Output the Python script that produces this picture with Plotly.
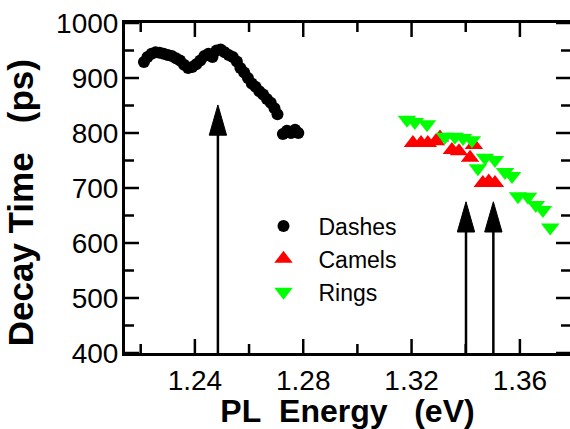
import plotly.graph_objects as go

# ---- data ----
dash_e = [1.2212, 1.2225, 1.2240, 1.2255, 1.2270, 1.2285, 1.2300, 1.2315, 1.2330, 1.2345,
          1.2360, 1.2375, 1.2390, 1.2405, 1.2420, 1.2435, 1.2450, 1.2465, 1.2480, 1.2495,
          1.2510, 1.2525, 1.2540, 1.2555, 1.2568, 1.2582, 1.2596, 1.2610, 1.2624, 1.2638,
          1.2652, 1.2666, 1.2680, 1.2694, 1.2705, 1.2725, 1.2740, 1.2755, 1.2770, 1.2782]
dash_t = [929, 938, 944, 947, 946, 944, 942, 940, 936, 932,
          924, 918, 920, 925, 932, 940, 944, 938, 950, 952,
          947, 942, 938, 930, 918, 910, 900, 890, 884, 876,
          870, 862, 855, 845, 834, 798, 804, 800, 806, 800]

camel_e = [1.3205, 1.3235, 1.3260, 1.3290, 1.3305, 1.3349, 1.3375, 1.3416, 1.3430, 1.3463, 1.3485, 1.3508]
camel_t = [782, 782, 782, 785, 792, 769, 767, 755, 778, 709, 712, 709]

ring_e = [1.3183, 1.3212, 1.3257, 1.3323, 1.3360, 1.3390, 1.3423, 1.3445, 1.3471, 1.3508,
          1.3545, 1.3571, 1.3593, 1.3630, 1.3659, 1.3685, 1.3712]
ring_t = [824, 820, 816, 793, 793, 791, 787, 736, 755, 751,
          729, 722, 685, 684, 669, 660, 628]

arrow_e = [1.2485, 1.3401, 1.3502]
arrow_tip = [851, 675, 675]
arrow_base = 400

x_major = [1.24, 1.28, 1.32, 1.36]
x_minor = [1.22, 1.26, 1.30, 1.34]
y_major = [400, 500, 600, 700, 800, 900, 1000]
y_minor = [450, 550, 650, 750, 850, 950]

x_range = [1.2142, 1.3785]
y_range = [400, 1000]

FONT = "Liberation Sans, Arial, sans-serif"
W, H = 570, 429
ML, MR, MT, MB = 125, 0, 23, 76
PW, PH = W - ML - MR, H - MT - MB

fig = go.Figure()
fig.add_trace(go.Scatter(x=dash_e, y=dash_t, mode="markers", name="Dashes",
                         marker=dict(symbol="circle", size=12, color="black")))
fig.add_trace(go.Scatter(x=camel_e, y=camel_t, mode="markers", name="Camels",
                         marker=dict(symbol="triangle-up", size=16, color="#ff0000")))
fig.add_trace(go.Scatter(x=ring_e, y=ring_t, mode="markers", name="Rings",
                         marker=dict(symbol="triangle-down", size=16, color="#00ff00")))

shapes = []
# arrows: shaft + slender filled head
head_half_w = 0.0032   # in eV (style)
head_len = 55          # in ps (style)
for xe, tip in zip(arrow_e, arrow_tip):
    shapes.append(dict(type="line", xref="x", yref="y", x0=xe, x1=xe,
                       y0=arrow_base, y1=tip - head_len + 5,
                       line=dict(color="black", width=2.5)))
    shapes.append(dict(type="path", xref="x", yref="y",
                       path=f"M {xe - head_half_w},{tip - head_len} L {xe + head_half_w},{tip - head_len} L {xe},{tip} Z",
                       fillcolor="black", line=dict(color="black", width=1)))

# inside ticks on all four sides
MAJ, MIN, TW = 14, 9, 2.5
for vals, ln in ((x_major, MAJ), (x_minor, MIN)):
    for v in vals:
        shapes.append(dict(type="line", xref="x", yref="paper", x0=v, x1=v, y0=0, y1=ln / PH,
                           line=dict(color="black", width=TW)))
        shapes.append(dict(type="line", xref="x", yref="paper", x0=v, x1=v, y0=1, y1=1 - ln / PH,
                           line=dict(color="black", width=TW)))
for vals, ln in ((y_major, MAJ), (y_minor, MIN)):
    for v in vals:
        shapes.append(dict(type="line", xref="paper", yref="y", y0=v, y1=v, x0=0, x1=ln / PW,
                           line=dict(color="black", width=TW)))
        shapes.append(dict(type="line", xref="paper", yref="y", y0=v, y1=v, x0=1, x1=1 - ln / PW,
                           line=dict(color="black", width=TW)))

axis_common = dict(showline=True, linecolor="black", linewidth=3, mirror=True,
                   ticks="", showgrid=False, zeroline=False, automargin=False,
                   tickfont=dict(family=FONT, size=28, color="black"))

fig.update_layout(
    width=W, height=H,
    margin=dict(l=ML, r=MR, t=MT, b=MB),
    paper_bgcolor="white", plot_bgcolor="white",
    shapes=shapes,
    xaxis=dict(range=x_range, tickmode="array", tickvals=x_major,
               ticktext=[f"{v:.2f}" for v in x_major],
               title=dict(text="<b>PL&nbsp; Energy&nbsp;&nbsp;&nbsp;(eV)</b>",
                          font=dict(family=FONT, size=32, color="black"), standoff=0),
               **axis_common),
    yaxis=dict(range=y_range, tickmode="array", tickvals=y_major,
               ticktext=[str(v) for v in y_major], ticklabelstandoff=-2,
               **axis_common),
    legend=dict(x=0.2775, y=0.45, xanchor="left", yanchor="top", bgcolor="rgba(0,0,0,0)",
                borderwidth=0, itemwidth=60,
                font=dict(family=FONT, size=23, color="black")),
    annotations=[dict(text="<b>Decay&nbsp;Time&nbsp;&nbsp; (ps)</b>", xref="paper", yref="paper",
                      x=-0.235, y=0.455, xanchor="center", yanchor="middle", textangle=-90,
                      showarrow=False, font=dict(family=FONT, size=35, color="black"))],
)

fig.write_html("out.html")
